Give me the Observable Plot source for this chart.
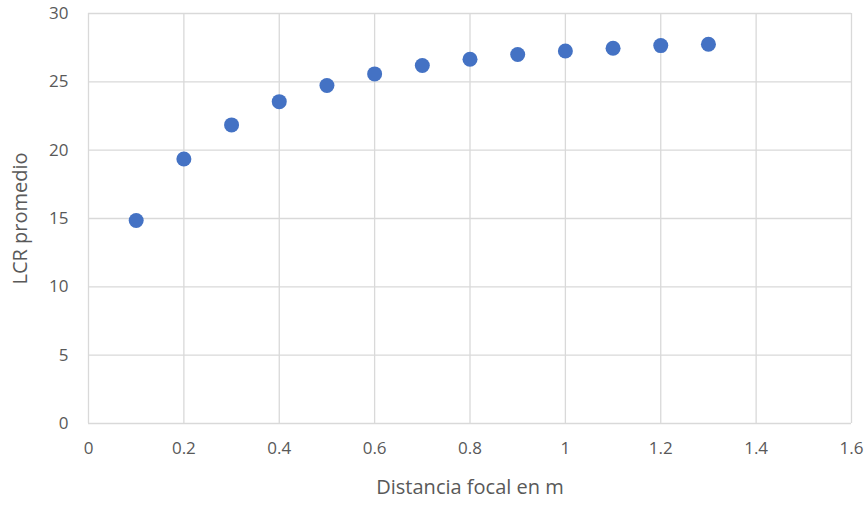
<!DOCTYPE html>
<html><head><meta charset="utf-8">
<script src="https://cdn.jsdelivr.net/npm/d3@7"></script>
<script src="https://cdn.jsdelivr.net/npm/@observablehq/plot@0.6"></script>
<style>body{margin:0;background:#fff}</style>
</head><body><div id="chart"></div>
<script>
const distancia = [0.1,0.2,0.3,0.4,0.5,0.6,0.7,0.8,0.9,1.0,1.1,1.2,1.3];
const lcr = [14.85,19.35,21.85,23.55,24.73,25.58,26.2,26.65,27.0,27.26,27.46,27.65,27.75];
const xTicks = [0,0.2,0.4,0.6,0.8,1,1.2,1.4,1.6];
const yTicks = [0,5,10,15,20,25,30];
const data = distancia.map((d,i)=>({x:d,y:lcr[i]}));
const chart = Plot.plot({
  width: 868, height: 505,
  marginLeft: 88, marginRight: 17, marginTop: 13, marginBottom: 82,
  style: {fontFamily: "'Open Sans', sans-serif", fontSize: "17px", color: "#595959", background: "#fff"},
  x: {domain: [0,1.6], ticks: xTicks, tickFormat: d => String(d), label: null, tickSize: 0, tickPadding: 18},
  y: {domain: [0,30], ticks: yTicks, label: null, tickSize: 0, tickPadding: 20},
  marks: [
    Plot.gridX(xTicks, {stroke: "#d9d9d9", strokeOpacity: 1, strokeWidth: 1.3}),
    Plot.gridY(yTicks, {stroke: "#d9d9d9", strokeOpacity: 1, strokeWidth: 1.3}),
    Plot.axisX(xTicks, {tickSize: 0, tickPadding: 18, tickFormat: d => String(d), label: null, fill: "#595959"}),
    Plot.axisY(yTicks, {tickSize: 0, tickPadding: 20, label: null, fill: "#595959"}),
    Plot.text(["LCR promedio"], {frameAnchor: "left", textAnchor: "middle", dx: -68, rotate: -90, fontSize: 20, fill: "#595959"}),
    Plot.text(["Distancia focal en m"], {frameAnchor: "bottom", dy: 70, fontSize: 20, fill: "#595959"}),
    Plot.dot(data, {x: "x", y: "y", r: 7.5, fill: "#4472C4", stroke: "none"})
  ]
});
document.getElementById("chart").appendChild(chart);
</script>
</body></html>
